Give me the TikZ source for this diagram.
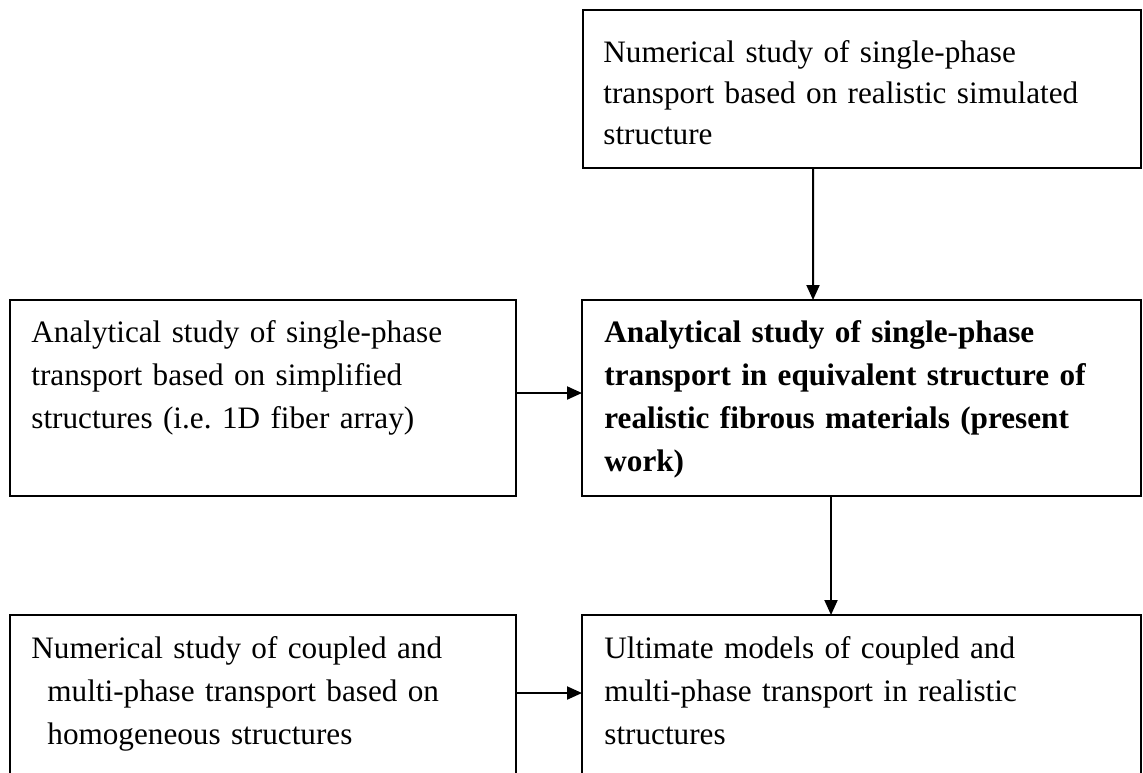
\documentclass[tikz,border=0pt]{standalone}
\usepackage{fontspec}
\setmainfont{Liberation Serif}
\usetikzlibrary{arrows.meta}
\frenchspacing
\begin{document}
\begin{tikzpicture}[x=0.5bp,y=-0.5bp,
  box/.style={draw=black,line width=0.7bp,anchor=north west,inner sep=0pt,outer sep=0pt},
  txt/.style={anchor=base west,inner sep=0pt,align=left,text width=270bp,
    font=\fontsize{15.6bp}{21.5bp}\selectfont},
  arr/.style={line width=1bp,-{Triangle[length=7.5bp,width=6.5bp]}}]
\useasboundingbox (0,0) rectangle (1143,772);
\clip (0,0) rectangle (1143,772);
% boxes
\node[box,minimum width=279bp,minimum height=79bp] (top) at (583,10) {};
\node[box,minimum width=253bp,minimum height=98bp] (ml) at (10,300) {};
\node[box,minimum width=279.5bp,minimum height=98bp] (mr) at (582,300) {};
\node[box,minimum width=253bp,minimum height=85bp] (bl) at (10,615) {};
\node[box,minimum width=279.5bp,minimum height=85bp] (br) at (582,615) {};
% texts
\node[txt,font=\fontsize{15.6bp}{20.5bp}\selectfont] (ttop) at (603,62) {Numerical study of single-phase\\transport based on realistic simulated\\structure};
\node[txt] (tml) at (31,342) {Analytical study of single-phase\\transport based on simplified\\structures (i.e. 1D fiber array)};
\node[txt,font=\fontsize{15.6bp}{21.5bp}\selectfont\bfseries] (tmr) at (604,342) {Analytical study of single-phase\\transport in equivalent structure of\\realistic fibrous materials (present\\work)};
\node[txt] (tbl) at (31,658) {Numerical study of coupled and\\\hspace*{8bp}multi-phase transport based on\\\hspace*{8bp}homogeneous structures};
\node[txt] (tbr) at (604,658) {Ultimate models of coupled and\\multi-phase transport in realistic\\structures};
% arrows
\draw[arr] ([xshift=115bp]top.south west) -- ([xshift=115.5bp]mr.north west);
\draw[arr] ([yshift=-46.5bp]ml.north east) -- ([yshift=-46.5bp]mr.north west);
\draw[arr] ([xshift=124.5bp]mr.south west) -- ([xshift=124.5bp]br.north west);
\draw[arr] ([yshift=-39bp]bl.north east) -- ([yshift=-39bp]br.north west);
\end{tikzpicture}
\end{document}
